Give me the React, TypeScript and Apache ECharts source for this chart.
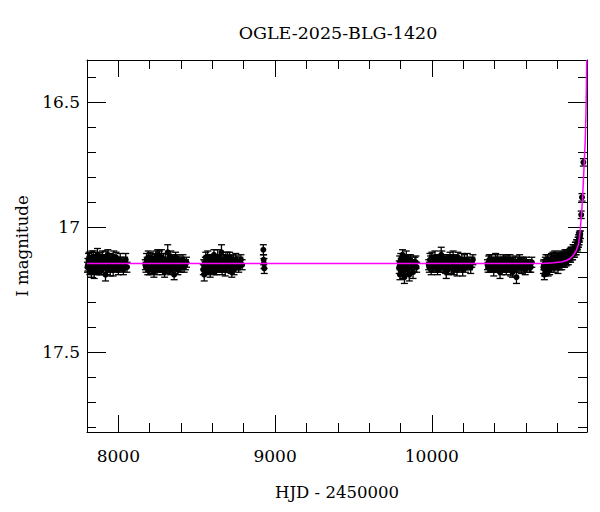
import React, { useEffect, useRef } from "react";
import * as echarts from "echarts";

// [HJD-2450000, I mag, error]
const season1: number[][] = [
  [7803, 17.16, 0.02], [7806, 17.15, 0.025], [7810, 17.13, 0.025], [7814, 17.12, 0.02],
  [7818, 17.17, 0.02], [7821, 17.16, 0.025], [7825, 17.14, 0.02], [7828, 17.18, 0.02],
  [7831, 17.12, 0.025], [7835, 17.14, 0.02], [7838, 17.15, 0.02], [7842, 17.12, 0.025],
  [7846, 17.18, 0.025], [7849, 17.16, 0.02], [7852, 17.13, 0.02], [7856, 17.14, 0.025],
  [7860, 17.16, 0.02], [7863, 17.17, 0.02], [7867, 17.11, 0.025], [7870, 17.13, 0.02],
  [7874, 17.15, 0.02], [7877, 17.16, 0.025], [7881, 17.17, 0.02], [7885, 17.14, 0.02],
  [7889, 17.12, 0.02], [7892, 17.17, 0.02], [7896, 17.14, 0.025], [7899, 17.12, 0.025],
  [7903, 17.16, 0.02], [7907, 17.15, 0.02], [7911, 17.13, 0.02], [7914, 17.14, 0.02],
  [7918, 17.19, 0.025], [7921, 17.12, 0.025], [7925, 17.15, 0.02], [7929, 17.17, 0.02],
  [7933, 17.11, 0.02], [7936, 17.15, 0.02], [7940, 17.14, 0.02], [7944, 17.13, 0.025],
  [7948, 17.17, 0.025], [7951, 17.16, 0.02], [7955, 17.13, 0.02], [7959, 17.14, 0.02],
  [7963, 17.15, 0.02], [7967, 17.17, 0.025], [7971, 17.12, 0.025], [7975, 17.14, 0.02],
  [7980, 17.16, 0.02], [7985, 17.12, 0.02], [7990, 17.14, 0.02], [7995, 17.15, 0.025],
  [8000, 17.17, 0.02], [8006, 17.16, 0.02], [8012, 17.13, 0.025], [8018, 17.14, 0.02],
  [8025, 17.15, 0.02], [8032, 17.17, 0.02], [8040, 17.14, 0.02], [8047, 17.13, 0.025],
  [8055, 17.16, 0.02],
];
const season2: number[][] = [
  [8172, 17.15, 0.02], [8176, 17.16, 0.02], [8180, 17.13, 0.025], [8184, 17.14, 0.02],
  [8188, 17.17, 0.02], [8191, 17.12, 0.025], [8195, 17.14, 0.02], [8199, 17.17, 0.02],
  [8203, 17.12, 0.02], [8207, 17.15, 0.02], [8211, 17.16, 0.025], [8215, 17.13, 0.025],
  [8219, 17.14, 0.02], [8223, 17.15, 0.02], [8227, 17.18, 0.02], [8231, 17.16, 0.02],
  [8235, 17.13, 0.02], [8239, 17.12, 0.025], [8243, 17.15, 0.025], [8247, 17.17, 0.02],
  [8251, 17.11, 0.02], [8255, 17.14, 0.02], [8259, 17.16, 0.02], [8263, 17.12, 0.025],
  [8267, 17.14, 0.02], [8271, 17.16, 0.02], [8275, 17.12, 0.03], [8279, 17.14, 0.02],
  [8283, 17.17, 0.02], [8287, 17.13, 0.025], [8291, 17.15, 0.02], [8295, 17.18, 0.02],
  [8299, 17.13, 0.025], [8303, 17.14, 0.02], [8307, 17.16, 0.02], [8311, 17.16, 0.025],
  [8315, 17.10, 0.03], [8319, 17.13, 0.02], [8323, 17.14, 0.02], [8327, 17.15, 0.02],
  [8331, 17.17, 0.02], [8335, 17.12, 0.025], [8339, 17.13, 0.02], [8343, 17.16, 0.02],
  [8347, 17.15, 0.025], [8351, 17.14, 0.02], [8356, 17.19, 0.02], [8360, 17.16, 0.025],
  [8365, 17.12, 0.02], [8370, 17.13, 0.02], [8375, 17.15, 0.02], [8380, 17.17, 0.02],
  [8386, 17.14, 0.025], [8392, 17.15, 0.025], [8398, 17.16, 0.02], [8405, 17.14, 0.02],
  [8412, 17.13, 0.02], [8420, 17.16, 0.02], [8428, 17.15, 0.02], [8435, 17.14, 0.02],
];
const season3: number[][] = [
  [8542, 17.17, 0.02], [8545, 17.15, 0.02], [8548, 17.19, 0.025], [8551, 17.16, 0.025],
  [8555, 17.14, 0.02], [8558, 17.12, 0.02], [8562, 17.16, 0.02], [8566, 17.17, 0.02],
  [8570, 17.12, 0.025], [8574, 17.14, 0.025], [8578, 17.15, 0.02], [8582, 17.13, 0.02],
  [8586, 17.18, 0.02], [8590, 17.16, 0.02], [8594, 17.13, 0.02], [8598, 17.14, 0.025],
  [8602, 17.16, 0.025], [8606, 17.13, 0.02], [8610, 17.11, 0.02], [8614, 17.17, 0.02],
  [8618, 17.15, 0.02], [8622, 17.14, 0.025], [8626, 17.17, 0.02], [8630, 17.16, 0.02],
  [8634, 17.12, 0.03], [8638, 17.13, 0.02], [8642, 17.14, 0.02], [8646, 17.15, 0.025],
  [8650, 17.16, 0.02], [8654, 17.13, 0.02], [8658, 17.10, 0.03], [8662, 17.17, 0.02],
  [8666, 17.15, 0.02], [8670, 17.14, 0.025], [8674, 17.13, 0.02], [8678, 17.16, 0.02],
  [8682, 17.17, 0.025], [8686, 17.12, 0.02], [8690, 17.14, 0.02], [8694, 17.15, 0.025],
  [8698, 17.12, 0.02], [8702, 17.14, 0.02], [8706, 17.16, 0.02], [8710, 17.12, 0.02],
  [8715, 17.14, 0.025], [8719, 17.16, 0.025], [8724, 17.18, 0.02], [8728, 17.15, 0.02],
  [8733, 17.13, 0.02], [8738, 17.17, 0.02], [8743, 17.15, 0.02], [8749, 17.13, 0.025],
  [8755, 17.14, 0.025], [8761, 17.15, 0.02], [8768, 17.16, 0.02], [8775, 17.14, 0.02],
  [8782, 17.13, 0.02], [8790, 17.15, 0.02],
];
const season4: number[][] = [
  [8925, 17.09, 0.02], [8927, 17.13, 0.02], [8929, 17.145, 0.02], [8931, 17.165, 0.02],
];
const season5: number[][] = [
  [9792, 17.16, 0.025], [9795, 17.14, 0.025], [9797, 17.19, 0.02], [9800, 17.17, 0.02],
  [9802, 17.13, 0.025], [9805, 17.15, 0.025], [9808, 17.17, 0.02], [9810, 17.14, 0.02],
  [9813, 17.11, 0.02], [9816, 17.18, 0.025], [9819, 17.15, 0.02], [9822, 17.13, 0.02],
  [9825, 17.20, 0.025], [9828, 17.16, 0.025], [9831, 17.14, 0.02], [9834, 17.15, 0.02],
  [9837, 17.12, 0.025], [9840, 17.14, 0.02], [9843, 17.17, 0.02], [9846, 17.16, 0.025],
  [9849, 17.15, 0.02], [9852, 17.13, 0.02], [9856, 17.19, 0.025], [9859, 17.15, 0.02],
  [9863, 17.13, 0.02], [9866, 17.14, 0.025], [9870, 17.16, 0.02], [9875, 17.15, 0.02],
  [9880, 17.18, 0.025], [9886, 17.16, 0.02], [9892, 17.14, 0.02], [9898, 17.14, 0.025],
  [9903, 17.16, 0.02],
];
const season6: number[][] = [
  [9980, 17.15, 0.02], [9984, 17.16, 0.02], [9988, 17.13, 0.025], [9992, 17.14, 0.025],
  [9996, 17.17, 0.02], [10000, 17.12, 0.02], [10004, 17.14, 0.02], [10008, 17.15, 0.02],
  [10012, 17.16, 0.02], [10016, 17.14, 0.025], [10020, 17.12, 0.025], [10024, 17.16, 0.02],
  [10028, 17.15, 0.02], [10032, 17.13, 0.02], [10036, 17.17, 0.02], [10040, 17.15, 0.025],
  [10044, 17.13, 0.02], [10048, 17.16, 0.02], [10052, 17.15, 0.025], [10056, 17.14, 0.02],
  [10060, 17.11, 0.03], [10064, 17.12, 0.025], [10068, 17.14, 0.02], [10072, 17.15, 0.02],
  [10076, 17.16, 0.02], [10080, 17.14, 0.02], [10084, 17.13, 0.02], [10088, 17.16, 0.025],
  [10092, 17.18, 0.025], [10096, 17.13, 0.02], [10100, 17.14, 0.02], [10104, 17.17, 0.02],
  [10108, 17.15, 0.02], [10112, 17.14, 0.025], [10116, 17.12, 0.02], [10120, 17.13, 0.02],
  [10124, 17.16, 0.025], [10128, 17.15, 0.02], [10132, 17.14, 0.02], [10136, 17.12, 0.025],
  [10140, 17.17, 0.02], [10144, 17.16, 0.02], [10148, 17.13, 0.02], [10152, 17.14, 0.02],
  [10157, 17.15, 0.025], [10161, 17.17, 0.025], [10166, 17.12, 0.02], [10171, 17.14, 0.02],
  [10176, 17.16, 0.02], [10181, 17.15, 0.02], [10186, 17.14, 0.02], [10191, 17.13, 0.025],
  [10197, 17.17, 0.025], [10202, 17.15, 0.02], [10208, 17.13, 0.02], [10214, 17.16, 0.02],
  [10220, 17.15, 0.02], [10226, 17.13, 0.025], [10233, 17.14, 0.02], [10240, 17.15, 0.02],
  [10248, 17.16, 0.025], [10255, 17.14, 0.02], [10262, 17.13, 0.02],
];
const season7: number[][] = [
  [10355, 17.15, 0.02], [10359, 17.16, 0.02], [10363, 17.14, 0.025], [10367, 17.13, 0.02],
  [10371, 17.16, 0.02], [10375, 17.15, 0.025], [10379, 17.13, 0.02], [10383, 17.16, 0.02],
  [10387, 17.15, 0.02], [10391, 17.14, 0.02], [10395, 17.17, 0.025], [10399, 17.15, 0.02],
  [10403, 17.14, 0.02], [10407, 17.13, 0.025], [10411, 17.16, 0.02], [10415, 17.15, 0.02],
  [10419, 17.13, 0.02], [10423, 17.16, 0.02], [10427, 17.15, 0.02], [10431, 17.14, 0.02],
  [10435, 17.18, 0.025], [10439, 17.15, 0.025], [10443, 17.14, 0.02], [10447, 17.17, 0.02],
  [10451, 17.16, 0.02], [10455, 17.14, 0.02], [10459, 17.13, 0.02], [10463, 17.16, 0.02],
  [10467, 17.15, 0.025], [10471, 17.14, 0.025], [10475, 17.17, 0.02], [10479, 17.15, 0.02],
  [10483, 17.14, 0.02], [10487, 17.13, 0.02], [10491, 17.16, 0.02], [10495, 17.15, 0.02],
  [10499, 17.13, 0.02], [10503, 17.17, 0.025], [10507, 17.15, 0.025], [10511, 17.14, 0.02],
  [10515, 17.18, 0.02], [10519, 17.16, 0.02], [10523, 17.14, 0.02], [10527, 17.15, 0.02],
  [10531, 17.16, 0.02], [10535, 17.14, 0.025], [10540, 17.20, 0.025], [10545, 17.16, 0.02],
  [10550, 17.15, 0.02], [10555, 17.15, 0.02], [10560, 17.13, 0.02], [10566, 17.14, 0.02],
  [10571, 17.16, 0.025], [10577, 17.15, 0.025], [10583, 17.14, 0.02], [10590, 17.16, 0.02],
  [10596, 17.17, 0.02], [10603, 17.14, 0.02], [10610, 17.15, 0.02], [10617, 17.15, 0.02],
  [10624, 17.16, 0.02], [10631, 17.16, 0.02], [10638, 17.14, 0.02],
];
const season8: number[][] = [
  [10712, 17.16, 0.025], [10715, 17.15, 0.02], [10718, 17.19, 0.02], [10721, 17.17, 0.025],
  [10724, 17.14, 0.02], [10728, 17.13, 0.02], [10731, 17.16, 0.025], [10735, 17.15, 0.02],
  [10738, 17.13, 0.02], [10742, 17.17, 0.025], [10745, 17.15, 0.02], [10749, 17.14, 0.02],
  [10752, 17.17, 0.02], [10756, 17.16, 0.02], [10759, 17.14, 0.025], [10763, 17.13, 0.025],
  [10766, 17.15, 0.02], [10770, 17.15, 0.02], [10773, 17.12, 0.02], [10777, 17.14, 0.02],
  [10780, 17.16, 0.02], [10784, 17.12, 0.025], [10787, 17.14, 0.02], [10791, 17.15, 0.02],
  [10794, 17.13, 0.025], [10798, 17.14, 0.02], [10801, 17.15, 0.02], [10805, 17.16, 0.025],
  [10808, 17.12, 0.02], [10812, 17.13, 0.02], [10815, 17.14, 0.02], [10819, 17.15, 0.02],
  [10822, 17.13, 0.025], [10826, 17.12, 0.025], [10829, 17.15, 0.02], [10833, 17.14, 0.02],
  [10836, 17.12, 0.02], [10840, 17.13, 0.02], [10843, 17.14, 0.02], [10847, 17.14, 0.02],
  [10850, 17.11, 0.02], [10854, 17.12, 0.025], [10857, 17.13, 0.025], [10861, 17.13, 0.02],
  [10864, 17.12, 0.02], [10868, 17.11, 0.02], [10871, 17.13, 0.02], [10875, 17.12, 0.02],
  [10878, 17.11, 0.02], [10882, 17.11, 0.025], [10885, 17.12, 0.02], [10888, 17.10, 0.02],
  [10892, 17.10, 0.02], [10895, 17.11, 0.02], [10898, 17.11, 0.02], [10901, 17.09, 0.02],
  [10904, 17.09, 0.02], [10907, 17.10, 0.02], [10910, 17.10, 0.02], [10913, 17.09, 0.02],
  [10916, 17.08, 0.02], [10919, 17.08, 0.02], [10921, 17.09, 0.02], [10924, 17.07, 0.02],
  [10926, 17.07, 0.02], [10929, 17.07, 0.02], [10931, 17.08, 0.02], [10933, 17.06, 0.02],
  [10935, 17.06, 0.02], [10937, 17.05, 0.02], [10939, 17.05, 0.02], [10941, 17.04, 0.02],
  [10943, 17.04, 0.015], [10945, 17.03, 0.015], [10947, 17.03, 0.015], [10953, 16.95, 0.015],
  [10958, 16.88, 0.015], [10967, 16.74, 0.015],
];

// microlensing model
const modelCurve: number[][] = [
  [7800, 17.145], [10700, 17.145], [10780, 17.142], [10830, 17.138], [10860, 17.133],
  [10885, 17.124], [10905, 17.11], [10920, 17.095], [10935, 17.07], [10942, 17.04],
  [10948, 17.0], [10955, 16.95], [10962, 16.88], [10968, 16.8], [10974, 16.72],
  [10979, 16.65], [10983, 16.55], [10986, 16.45], [10988, 16.33],
];

const xMajorTicks = [8000, 9000, 10000];
const xMinorTicks = [8200, 8400, 8600, 8800, 9200, 9400, 9600, 9800, 10200, 10400, 10600, 10800];
const yMajorTicks = [16.5, 17, 17.5];
const yMinorTicks = [16.4, 16.6, 16.7, 16.8, 16.9, 17.1, 17.2, 17.3, 17.4, 17.6, 17.7, 17.8];

const X_MIN = 7800;
const X_MAX = 10990;
const Y_MIN = 16.33;
const Y_MAX = 17.82;

const FONT = "DejaVu Serif";

export default function App() {
  const ref = useRef<HTMLDivElement>(null);
  useEffect(() => {
    if (!ref.current) return;
    const chart = echarts.init(ref.current, null, { renderer: "svg" });
    const photometry = [
      ...season1, ...season2, ...season3, ...season4,
      ...season5, ...season6, ...season7, ...season8,
    ];

    const fmt = (v: number) => String(v);

    const mkX = (pos: "bottom" | "top", ticks: number[], len: number, labels: boolean, line: boolean) => ({
      type: "value",
      position: pos,
      min: X_MIN,
      max: X_MAX,
      name: labels ? "HJD - 2450000" : "",
      nameLocation: "middle",
      nameGap: 52,
      nameTextStyle: { fontFamily: FONT, fontSize: 16.5, color: "#000" },
      axisLine: { show: line, onZero: false, lineStyle: { color: "#000", width: 1 } },
      axisTick: {
        show: true, inside: true, length: len, customValues: ticks,
        lineStyle: { color: "#000", width: 1 },
      },
      axisLabel: {
        show: labels, customValues: ticks, margin: 15, formatter: fmt,
        fontFamily: FONT, fontSize: 17, color: "#000",
      },
      splitLine: { show: false },
    });
    const mkY = (pos: "left" | "right", ticks: number[], len: number, labels: boolean, line: boolean) => ({
      type: "value",
      position: pos,
      inverse: true,
      min: Y_MIN,
      max: Y_MAX,
      name: labels ? "I magnitude" : "",
      nameLocation: "middle",
      nameGap: 56,
      nameTextStyle: { fontFamily: FONT, fontSize: 16.5, color: "#000" },
      axisLine: { show: line, onZero: false, lineStyle: { color: "#000", width: 1 } },
      axisTick: {
        show: true, inside: true, length: len, customValues: ticks,
        lineStyle: { color: "#000", width: 1 },
      },
      axisLabel: {
        show: labels, customValues: ticks, margin: 7, formatter: fmt,
        fontFamily: FONT, fontSize: 17, color: "#000",
      },
      splitLine: { show: false },
    });

    chart.setOption({
      animation: false,
      backgroundColor: "#fff",
      grid: { left: 87, right: 13, top: 60, bottom: 80 },
      graphic: [
        {
          type: "text",
          x: 338,
          y: 33,
          style: {
            text: "OGLE-2025-BLG-1420",
            font: `17.5px "${FONT}"`,
            fill: "#000",
            align: "center",
            verticalAlign: "middle",
          },
        },
      ],
      xAxis: [
        mkX("bottom", xMajorTicks, 17, true, true),
        mkX("bottom", xMinorTicks, 9, false, false),
        mkX("top", xMajorTicks, 17, false, true),
        mkX("top", xMinorTicks, 9, false, false),
      ],
      yAxis: [
        mkY("left", yMajorTicks, 19, true, true),
        mkY("left", yMinorTicks, 9, false, false),
        mkY("right", yMajorTicks, 19, false, true),
        mkY("right", yMinorTicks, 9, false, false),
      ],
      series: [
        {
          type: "custom",
          xAxisIndex: 0,
          yAxisIndex: 0,
          data: photometry,
          z: 2,
          renderItem: (params: any, api: any) => {
            const x = api.value(0);
            const y = api.value(1);
            const e = api.value(2);
            const p = api.coord([x, y]);
            const lo = api.coord([x, y - e]);
            const hi = api.coord([x, y + e]);
            const st = { stroke: "#000", lineWidth: 1.3 };
            return {
              type: "group",
              children: [
                { type: "line", shape: { x1: p[0], y1: lo[1], x2: p[0], y2: hi[1] }, style: st },
                { type: "line", shape: { x1: p[0] - 3.5, y1: lo[1], x2: p[0] + 3.5, y2: lo[1] }, style: st },
                { type: "line", shape: { x1: p[0] - 3.5, y1: hi[1], x2: p[0] + 3.5, y2: hi[1] }, style: st },
                { type: "circle", shape: { cx: p[0], cy: p[1], r: 3 }, style: { fill: "#000" } },
              ],
            };
          },
        },
        {
          type: "line",
          xAxisIndex: 0,
          yAxisIndex: 0,
          data: modelCurve,
          showSymbol: false,
          symbol: "none",
          clip: true,
          z: 5,
          lineStyle: { color: "#ff00ff", width: 1.5 },
        },
      ],
    });
    return () => chart.dispose();
  }, []);
  return (
    <div
      ref={ref}
      style={{ position: "absolute", left: 0, top: 0, width: 600, height: 512 }}
    />
  );
}
